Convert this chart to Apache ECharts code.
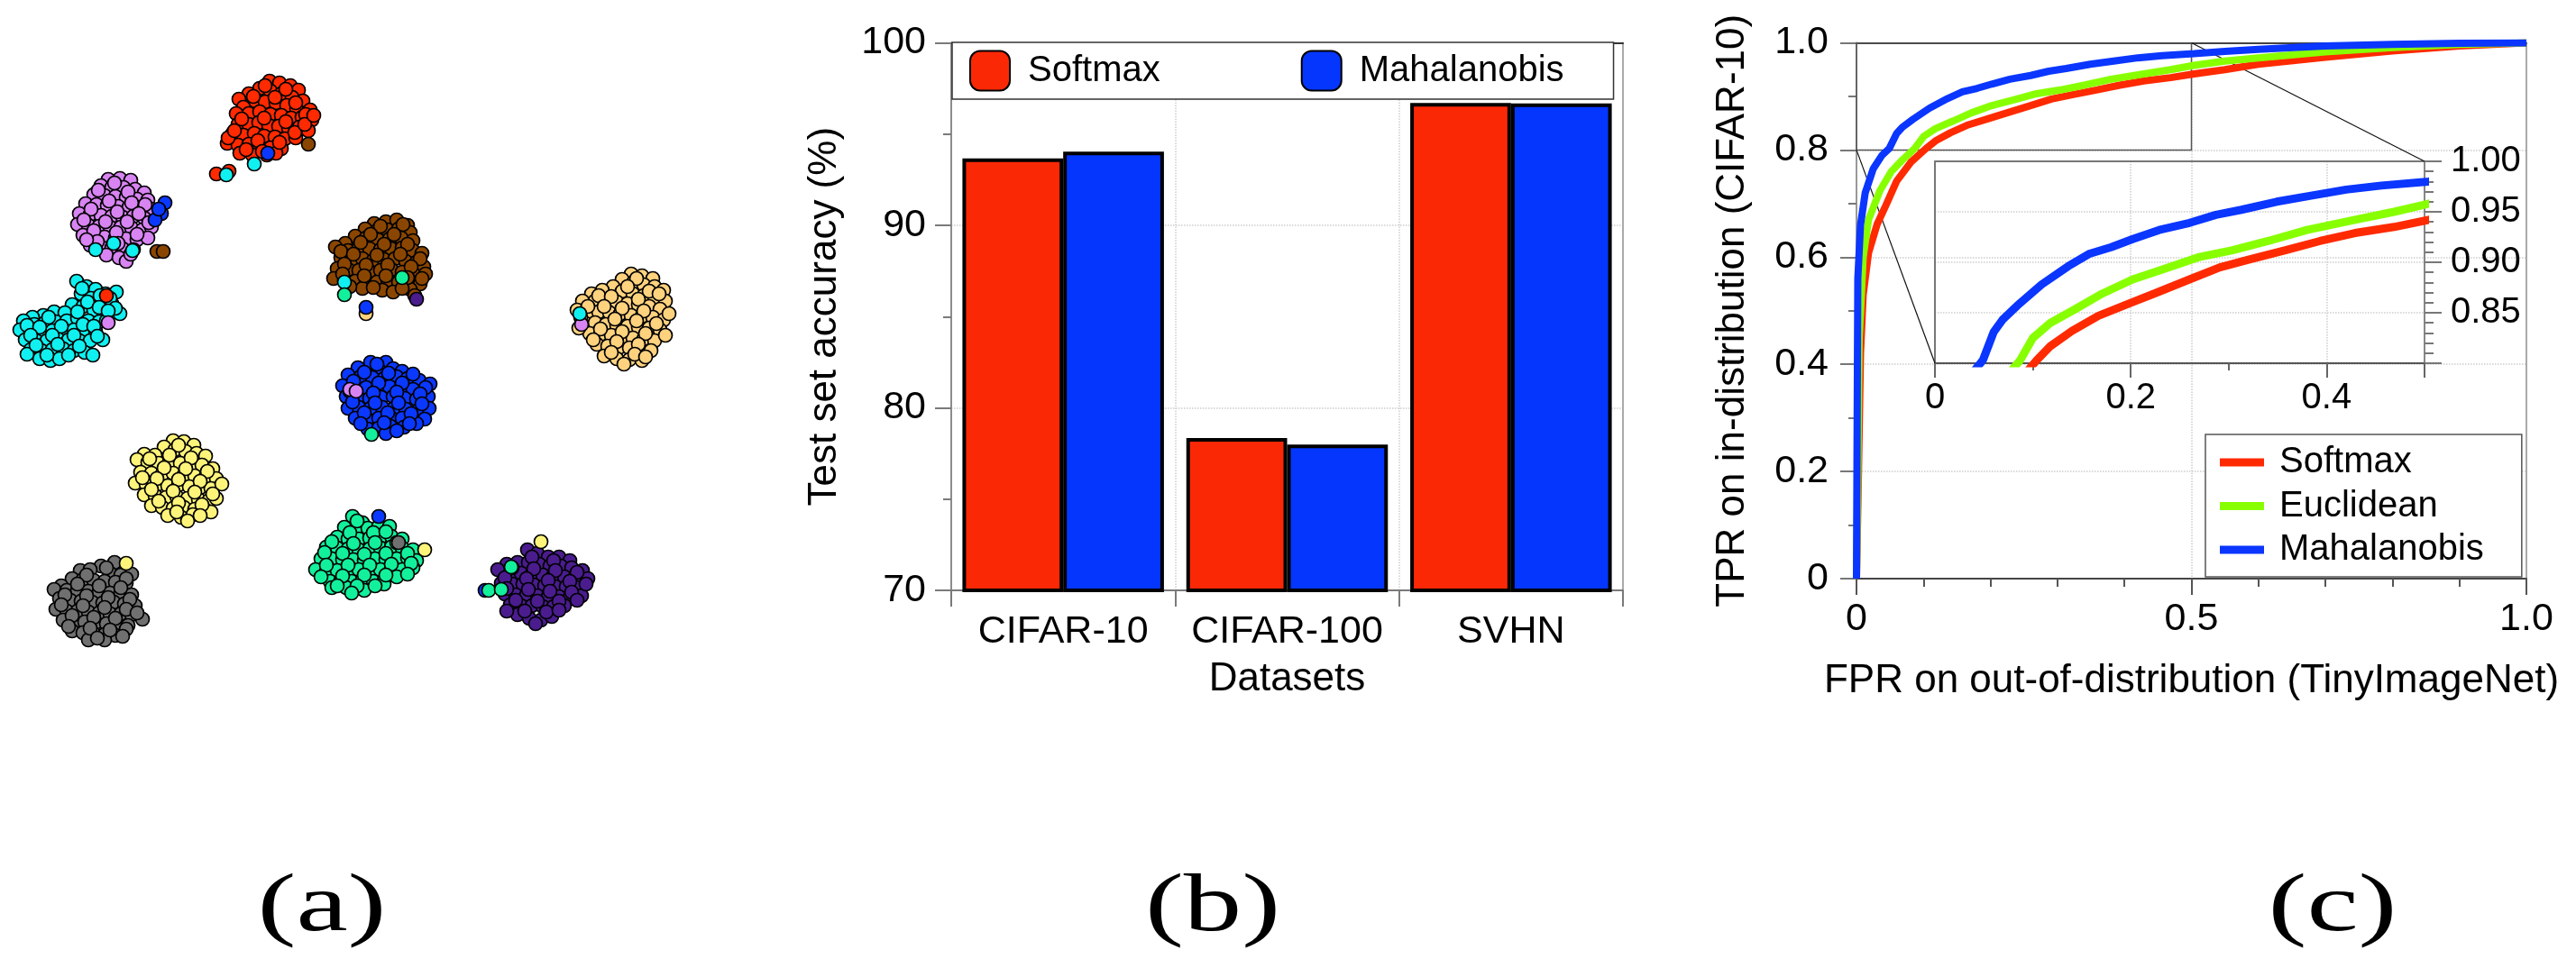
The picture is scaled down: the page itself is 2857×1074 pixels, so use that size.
<!DOCTYPE html>
<html><head><meta charset="utf-8">
<script src="https://cdn.jsdelivr.net/npm/echarts@6/dist/echarts.min.js"></script>
<style>html,body{margin:0;padding:0;background:#fff}#c{width:2857px;height:1074px}</style>
</head><body><div id="c"></div>
<script>
// ---------------- Panel (a): t-SNE embedding (units = picture units) ----------------
const PTS_RED = [[299,90],[310,92],[322,95],[331,100],[288,98],[276,104],[265,110],[300,101],[312,104],[324,108],[336,112],[344,122],[283,112],[294,113],[306,114],[318,117],[329,121],[270,119],[262,126],[276,126],[288,124],[300,127],[312,128],[323,131],[335,130],[346,133],[264,138],[276,138],[287,136],[298,139],[309,140],[320,142],[332,141],[342,145],[258,148],[270,150],[282,148],[293,151],[305,152],[316,154],[328,153],[252,159],[264,161],[276,160],[288,163],[300,164],[312,165],[266,170],[280,172],[296,172],[306,170],
  [294,95],[317,99],[281,107],[305,108],[328,114],[339,127],[268,132],[293,131],[317,135],[327,147],[253,153],[286,156],[310,158],[273,166],[291,168],[338,138],[348,128],[260,145]];
const PTS_LILAC = [[120,199],[133,198],[145,200],[112,206],[124,208],[137,208],[150,210],[160,214],[104,216],[116,217],[128,218],[140,219],[152,221],[164,222],[95,226],[107,227],[119,228],[131,229],[143,230],[155,231],[167,232],[88,237],[100,238],[112,239],[124,240],[136,241],[148,240],[160,242],[86,249],[98,250],[110,251],[122,252],[134,252],[146,253],[158,255],[168,252],[92,261],[104,262],[116,263],[128,264],[140,265],[152,266],[164,264],[100,272],[112,274],[124,275],[136,276],[148,277],[118,283],[132,286],[140,290],
  [127,203],[142,213],[109,211],[121,223],[146,225],[161,227],[101,232],[130,235],[154,237],[93,244],[117,246],[141,246],[165,247],[104,256],[129,258],[152,260],[108,268],[131,270],[145,282],[96,266]];
const PTS_CYAN = [[85,312],[96,318],[106,321],[117,326],[129,324],[90,326],[101,331],[112,335],[124,337],[133,348],[80,338],[92,340],[104,344],[116,347],[60,346],[72,347],[48,350],[36,352],[26,356],[38,360],[50,358],[62,357],[74,356],[86,353],[98,356],[110,357],[22,366],[34,368],[46,368],[58,367],[70,366],[82,366],[94,366],[106,368],[114,377],[28,377],[40,378],[52,378],[64,376],[76,377],[88,378],[100,378],[34,388],[46,389],[58,388],[70,387],[82,389],[94,391],[103,394],[44,398],[56,400],[66,398],[30,393],
  [91,320],[111,328],[122,331],[97,335],[110,341],[128,342],[86,346],[54,352],[30,361],[44,363],[68,362],[92,360],[104,362],[118,356],[34,372],[58,372],[82,372],[108,373],[40,383],[64,382],[88,384],[52,394],[76,394],[120,345]];
const PTS_BROWN = [[415,248],[428,246],[440,244],[452,250],[405,254],[418,256],[430,255],[442,254],[455,258],[394,262],[406,264],[419,266],[432,265],[445,264],[458,267],[383,270],[372,274],[386,278],[398,275],[410,276],[422,277],[434,276],[446,275],[458,278],[468,281],[378,286],[390,288],[402,287],[414,289],[426,288],[438,287],[450,290],[462,291],[470,296],[374,298],[386,299],[398,300],[410,301],[422,300],[434,299],[446,302],[458,303],[472,304],[370,309],[382,311],[394,312],[406,314],[418,313],[430,311],[442,313],[454,316],[466,315],[402,320],[424,322],[436,324],[455,321],[460,328],
  [422,251],[447,249],[411,260],[437,260],[400,269],[426,271],[452,271],[378,279],[392,282],[418,283],[444,282],[466,287],[382,293],[406,294],[430,294],[456,296],[380,304],[404,306],[428,306],[452,308],[388,318],[414,319],[446,320],[468,309]];
const PTS_TAN = [[700,304],[712,306],[724,309],[690,310],[702,314],[714,316],[726,318],[736,322],[680,318],[668,322],[656,326],[690,323],[702,326],[714,328],[726,330],[738,334],[646,334],[660,334],[672,334],[684,335],[696,337],[708,338],[720,340],[732,343],[640,344],[652,346],[664,346],[676,347],[688,348],[700,350],[712,351],[724,352],[736,355],[648,358],[660,358],[672,360],[684,361],[696,362],[708,363],[720,364],[732,366],[654,370],[666,371],[678,372],[690,374],[702,375],[714,376],[726,378],[662,382],[674,384],[686,386],[698,386],[710,388],[722,389],[670,395],[684,398],[698,399],[712,400],[692,404],
  [706,309],[696,318],[720,323],[731,326],[664,328],[678,329],[708,332],[652,340],[670,340],[690,342],[714,345],[742,348],[644,352],[682,354],[706,356],[728,359],[642,364],[666,365],[690,368],[716,370],[738,372],[658,377],[684,379],[708,382],[678,391],[704,393],[716,396]];
const PTS_BLUE = [[411,402],[428,402],[397,408],[420,410],[436,409],[446,412],[386,416],[400,418],[413,419],[426,420],[440,418],[452,420],[465,422],[477,426],[380,428],[393,429],[406,430],[419,431],[432,429],[445,430],[458,432],[470,435],[384,440],[397,441],[410,442],[423,441],[436,440],[449,442],[462,443],[475,440],[386,453],[398,452],[411,453],[424,452],[437,453],[450,454],[463,456],[476,453],[394,464],[407,465],[420,464],[433,463],[446,464],[459,466],[471,465],[408,476],[420,475],[433,473],[448,474],[462,470],[428,481],
  [418,404],[404,413],[431,414],[458,415],[392,423],[420,425],[446,425],[472,430],[388,434],[414,436],[440,435],[466,437],[391,446],[416,447],[442,447],[468,448],[404,458],[430,458],[456,459],[400,470],[426,469],[454,470],[440,478]];
const PTS_YELLOW = [[192,489],[204,490],[215,494],[182,496],[194,499],[206,501],[218,503],[228,506],[160,504],[172,505],[152,510],[164,513],[176,514],[188,512],[200,514],[212,515],[224,516],[236,520],[156,524],[168,525],[180,526],[192,525],[204,527],[216,528],[228,529],[240,531],[150,536],[162,537],[174,538],[186,539],[198,538],[210,540],[222,541],[234,542],[160,549],[172,550],[184,552],[196,551],[208,553],[220,554],[232,555],[240,553],[168,561],[180,563],[192,564],[204,563],[216,565],[228,566],[186,572],[201,574],[214,571],[234,568],
  [198,494],[188,505],[212,508],[166,509],[182,519],[206,520],[230,523],[158,530],[174,531],[198,532],[222,534],[246,537],[168,543],[192,545],[216,546],[236,548],[176,556],[198,558],[224,560],[196,568],[222,572],[208,578]];
const PTS_GRAY = [[127,624],[112,628],[89,633],[100,632],[122,636],[134,638],[146,637],[80,642],[92,643],[104,644],[116,645],[128,646],[140,647],[68,650],[60,654],[74,655],[86,655],[98,656],[110,657],[122,658],[134,658],[146,660],[66,664],[78,666],[90,667],[102,668],[114,669],[126,668],[138,670],[150,672],[62,676],[74,678],[86,678],[98,679],[110,680],[122,681],[134,681],[146,682],[158,687],[70,688],[82,690],[94,690],[106,691],[118,692],[130,693],[142,694],[80,700],[92,702],[104,703],[116,704],[128,705],[140,698],[98,710],[116,710],
  [118,630],[96,638],[140,642],[86,648],[110,650],[134,652],[72,660],[96,661],[120,663],[144,665],[68,671],[92,672],[116,674],[140,676],[80,683],[104,685],[128,686],[152,680],[76,695],[100,697],[122,699],[108,708],[136,706]];
const PTS_GREEN = [[391,573],[402,580],[382,585],[394,588],[408,586],[420,584],[432,584],[374,596],[386,598],[398,598],[410,597],[422,596],[434,595],[446,598],[362,607],[374,608],[386,609],[398,610],[410,609],[422,608],[434,607],[446,608],[458,610],[356,620],[368,620],[380,621],[392,621],[404,622],[416,620],[428,621],[440,620],[452,619],[462,622],[350,632],[362,634],[374,633],[386,633],[398,632],[410,633],[422,632],[434,631],[446,632],[458,630],[366,645],[378,644],[390,645],[402,643],[414,645],[426,644],[368,652],[384,652],[404,655],[426,648],[440,640],
  [396,578],[388,591],[414,591],[428,590],[368,601],[392,603],[416,602],[440,602],[360,613],[380,614],[404,615],[428,614],[452,614],[362,627],[386,627],[410,627],[434,626],[456,625],[356,640],[380,639],[404,638],[428,638],[452,637],[374,650],[396,650],[416,650],[390,658]];
const PTS_PURPLE = [[585,610],[596,614],[608,618],[620,618],[632,622],[562,626],[574,624],[586,624],[598,626],[610,628],[622,628],[634,630],[646,633],[552,632],[566,636],[578,636],[590,637],[602,638],[614,638],[626,640],[638,640],[652,642],[556,647],[568,648],[580,648],[592,649],[604,650],[616,651],[628,651],[640,652],[560,659],[572,660],[584,660],[596,661],[608,662],[620,662],[632,663],[645,661],[566,671],[578,672],[590,672],[602,673],[614,673],[626,672],[574,682],[587,686],[600,688],[612,684],[562,678],
  [590,618],[614,622],[568,630],[592,631],[616,633],[640,635],[560,641],[584,642],[608,644],[632,645],[650,648],[562,653],[586,654],[610,656],[634,657],[572,666],[596,667],[620,667],[640,666],[582,678],[606,679],[594,692],[620,677]];
// points of a class that landed inside another class's cluster
const STRAY_RED = [[240,193],[254,190],[118,328]];
const STRAY_LILAC = [[120,358],[388,432],[395,434],[645,360]];
const STRAY_CYAN = [[251,194],[282,182],[106,277],[126,270],[147,278],[382,313],[643,348]];
const STRAY_BROWN = [[342,160],[174,279],[181,279]];
const STRAY_TAN = [[406,348]];
const STRAY_BLUE = [[297,170],[183,225],[179,237],[172,244],[176,232],[406,341],[420,573],[538,655]];
const STRAY_YELLOW = [[600,601],[471,610],[140,625]];
const STRAY_GRAY = [[442,602]];
const STRAY_GREEN = [[382,327],[446,308],[412,482],[542,655],[556,654],[567,629]];
const STRAY_PURPLE = [[462,332]];

// ---------------- Panel (b): accuracy ----------------
const DATASETS = ['CIFAR-10', 'CIFAR-100', 'SVHN'];
const ACC_SOFTMAX = [93.67, 78.35, 96.70];
const ACC_MAHALANOBIS = [94.04, 77.99, 96.68];

// ---------------- Panel (c): ROC curves ----------------
const SOFTMAX_FPR = [0,0.003,0.006,0.01,0.018,0.031,0.044,0.06,0.081,0.104,0.118,0.140,0.167,0.198,0.224,0.26,0.291,0.322,0.358,0.393,0.429,0.469,0.504,0.55,0.6,0.7,0.8,0.9,1];
const SOFTMAX_TPR = [0,0.2,0.42,0.53,0.608,0.662,0.697,0.742,0.777,0.803,0.817,0.832,0.847,0.859,0.869,0.883,0.895,0.903,0.912,0.921,0.929,0.935,0.942,0.950,0.960,0.973,0.985,0.994,1];
const EUCLID_FPR = [0,0.002,0.004,0.01,0.018,0.035,0.052,0.069,0.087,0.1,0.118,0.144,0.171,0.202,0.233,0.269,0.304,0.34,0.38,0.429,0.469,0.504,0.55,0.6,0.7,0.8,0.9,1];
const EUCLID_TPR = [0,0.2,0.45,0.6,0.67,0.724,0.76,0.782,0.803,0.825,0.840,0.854,0.869,0.883,0.893,0.905,0.912,0.921,0.932,0.942,0.950,0.958,0.966,0.972,0.983,0.991,0.997,1];
const MAHAL_FPR = [0,0.001,0.002,0.006,0.013,0.025,0.038,0.049,0.060,0.069,0.084,0.109,0.136,0.158,0.18,0.202,0.229,0.26,0.287,0.313,0.349,0.384,0.42,0.456,0.504,0.55,0.6,0.7,0.8,0.9,1];
const MAHAL_TPR = [0,0.3,0.56,0.66,0.72,0.765,0.79,0.803,0.831,0.843,0.857,0.878,0.896,0.9085,0.915,0.923,0.932,0.939,0.947,0.952,0.960,0.966,0.972,0.976,0.980,0.984,0.988,0.994,0.997,0.999,1];
const INSET_X = [0, 0.5];
const INSET_Y = [0.8, 1.0];

// ---------------- styling ----------------
const FONT = '"Liberation Sans", Arial, Helvetica, sans-serif';
const C_RED = '#ff2a00', C_GREEN = '#88ff00', C_BLUE = '#0a36ff';
const BAR_RED = '#fb2806', BAR_BLUE = '#0436fd';
const TSNE = [
  [PTS_RED, STRAY_RED, '#ff2a00'],
  [PTS_LILAC, STRAY_LILAC, '#d884f2'],
  [PTS_CYAN, STRAY_CYAN, '#10f0f0'],
  [PTS_BROWN, STRAY_BROWN, '#8a4600'],
  [PTS_TAN, STRAY_TAN, '#ffd27e'],
  [PTS_BLUE, STRAY_BLUE, '#0a38ff'],
  [PTS_YELLOW, STRAY_YELLOW, '#fff47a'],
  [PTS_GRAY, STRAY_GRAY, '#707070'],
  [PTS_GREEN, STRAY_GREEN, '#12f09c'],
  [PTS_PURPLE, STRAY_PURPLE, '#4a1c8e']
];
const zip = (a, b) => a.map((v, i) => [v, b[i]]);

const chart = echarts.init(document.getElementById('c'), null, {renderer: 'canvas', width: 2857, height: 1074});

function frameAxis(grid, pos, color, w) {
  return {gridIndex: grid, type: 'value', position: pos, min: 0, max: 1,
    axisLine: {show: true, onZero: false, lineStyle: {color: color, width: w}},
    axisTick: {show: false}, axisLabel: {show: false}, splitLine: {show: false}};
}
const tickLbl = (size, margin) => ({color: '#000', fontFamily: FONT, fontSize: size, margin: margin});
const dotted = {show: true, lineStyle: {type: 'dotted', color: '#cdcdcd', width: 1.5}};
const near = (v, t) => Math.abs(v - t) < 1e-6;

const series = [];
TSNE.forEach(([pts, , col]) => series.push({type: 'scatter', xAxisIndex: 0, yAxisIndex: 0, data: pts,
  symbolSize: 15, silent: true, itemStyle: {color: col, borderColor: '#000', borderWidth: 1.7, opacity: 1}}));
TSNE.forEach(([, st, col]) => series.push({type: 'scatter', xAxisIndex: 0, yAxisIndex: 0, data: st,
  symbolSize: 15, silent: true, itemStyle: {color: col, borderColor: '#000', borderWidth: 1.7, opacity: 1}}));

series.push({name: 'Softmax', type: 'bar', xAxisIndex: 1, yAxisIndex: 1, data: ACC_SOFTMAX,
  barGap: '0%', barCategoryGap: '10%', itemStyle: {color: BAR_RED, borderColor: '#000', borderWidth: 4}});
series.push({name: 'Mahalanobis', type: 'bar', xAxisIndex: 1, yAxisIndex: 1, data: ACC_MAHALANOBIS,
  barGap: '0%', barCategoryGap: '10%', itemStyle: {color: BAR_BLUE, borderColor: '#000', borderWidth: 4}});

// zoom rectangle on the main ROC plot
series.push({type: 'line', xAxisIndex: 3, yAxisIndex: 3, silent: true, symbol: 'none', z: 1,
  data: [[INSET_X[0], INSET_Y[0]], [INSET_X[1], INSET_Y[0]], [INSET_X[1], INSET_Y[1]], [INSET_X[0], INSET_Y[1]], [INSET_X[0], INSET_Y[0]]],
  lineStyle: {color: '#555', width: 1.5}});
const ROC = [['Softmax ', SOFTMAX_FPR, SOFTMAX_TPR, C_RED], ['Euclidean', EUCLID_FPR, EUCLID_TPR, C_GREEN], ['Mahalanobis ', MAHAL_FPR, MAHAL_TPR, C_BLUE]];
ROC.forEach(([n, fx, fy, col]) => {
  series.push({name: n, type: 'line', xAxisIndex: 3, yAxisIndex: 3, data: zip(fx, fy), color: col,
    symbol: 'none', showSymbol: false, lineStyle: {color: col, width: 8}, itemStyle: {color: col, borderWidth: 0}, z: 3});
});
ROC.forEach(([n, fx, fy, col]) => {
  series.push({name: n, type: 'line', xAxisIndex: 5, yAxisIndex: 5, data: zip(fx, fy), color: col, clip: true,
    symbol: 'none', showSymbol: false, lineStyle: {color: col, width: 9}, itemStyle: {color: col, borderWidth: 0}, z: 3});
});

const option = {
  animation: false,
  backgroundColor: '#fff',
  grid: [
    {left: 0, top: 0, width: 760, height: 1074, outerBoundsMode: 'none'},
    {left: 1055, top: 47.5, width: 745, height: 607.5, outerBoundsMode: 'none'},
    {left: 2059, top: 47.5, width: 743, height: 594.5, outerBoundsMode: 'none'},
    {left: 2146, top: 179, width: 543, height: 224, outerBoundsMode: 'none'}
  ],
  xAxis: [
    {gridIndex: 0, type: 'value', min: 0, max: 760, show: false},
    {gridIndex: 1, type: 'category', data: DATASETS, position: 'bottom',
      axisLine: {show: true, lineStyle: {color: '#7a7a7a', width: 2}},
      axisTick: {show: true, interval: 0, length: 18, lineStyle: {color: '#7a7a7a', width: 2}},
      axisLabel: Object.assign(tickLbl(43, 25), {interval: 0}),
      splitLine: Object.assign({interval: 0}, dotted),
      name: 'Datasets', nameLocation: 'middle', nameGap: 77,
      nameTextStyle: {color: '#000', fontFamily: FONT, fontSize: 44}},
    frameAxis(1, 'top', '#333', 2),
    {gridIndex: 2, type: 'value', min: 0, max: 1, interval: 0.5, position: 'bottom',
      axisLine: {show: true, onZero: false, lineStyle: {color: '#444', width: 2}},
      axisTick: {show: true, length: 18, lineStyle: {color: '#555', width: 2}},
      minorTick: {show: true, splitNumber: 5, length: 9, lineStyle: {color: '#555', width: 2}},
      axisLabel: Object.assign(tickLbl(43, 24), {formatter: v => v === 0 ? '0' : v.toFixed(1)}),
      splitLine: dotted,
      name: 'FPR on out-of-distribution (TinyImageNet)', nameLocation: 'middle', nameGap: 92,
      nameTextStyle: {color: '#000', fontFamily: FONT, fontSize: 44}},
    frameAxis(2, 'top', '#444', 2),
    {gridIndex: 3, type: 'value', min: INSET_X[0], max: INSET_X[1], interval: 0.2, position: 'bottom',
      axisLine: {show: true, onZero: false, lineStyle: {color: '#555', width: 2}},
      axisTick: {show: true, length: 16, lineStyle: {color: '#666', width: 2}},
      minorTick: {show: true, splitNumber: 2, length: 8, lineStyle: {color: '#666', width: 2}},
      axisLabel: Object.assign(tickLbl(40, 19), {formatter: v => near(v, 0) ? '0' : (near(v, 0.2) || near(v, 0.4)) ? v.toFixed(1) : ''}),
      splitLine: dotted},
    frameAxis(3, 'top', '#777', 2)
  ],
  yAxis: [
    {gridIndex: 0, type: 'value', min: 0, max: 1074, inverse: true, show: false},
    {gridIndex: 1, type: 'value', min: 70, max: 100, interval: 10, position: 'left',
      axisLine: {show: true, onZero: false, lineStyle: {color: '#8c8c8c', width: 2}},
      axisTick: {show: true, length: 18, lineStyle: {color: '#7a7a7a', width: 2}},
      minorTick: {show: true, splitNumber: 2, length: 9, lineStyle: {color: '#7a7a7a', width: 2}},
      axisLabel: tickLbl(43, 28),
      splitLine: dotted,
      name: 'Test set accuracy (%)', nameLocation: 'middle', nameGap: 118, nameRotate: 90,
      nameTextStyle: {color: '#000', fontFamily: FONT, fontSize: 44}},
    frameAxis(1, 'right', '#aaa', 2),
    {gridIndex: 2, type: 'value', min: 0, max: 1, interval: 0.2, position: 'left',
      axisLine: {show: true, onZero: false, lineStyle: {color: '#999', width: 2}},
      axisTick: {show: true, length: 18, lineStyle: {color: '#777', width: 2}},
      minorTick: {show: true, splitNumber: 2, length: 9, lineStyle: {color: '#777', width: 2}},
      axisLabel: Object.assign(tickLbl(43, 31), {formatter: v => v === 0 ? '0' : v.toFixed(1)}),
      splitLine: dotted,
      name: 'TPR on in-distribution (CIFAR-10)', nameLocation: 'middle', nameGap: 115, nameRotate: 90,
      nameTextStyle: {color: '#000', fontFamily: FONT, fontSize: 44}},
    frameAxis(2, 'right', '#aaa', 2),
    {gridIndex: 3, type: 'value', min: INSET_Y[0], max: INSET_Y[1], interval: 0.05, position: 'right',
      axisLine: {show: true, onZero: false, lineStyle: {color: '#888', width: 2}},
      axisTick: {show: true, length: 19, lineStyle: {color: '#777', width: 2}},
      minorTick: {show: true, splitNumber: 5, length: 10, lineStyle: {color: '#777', width: 2}},
      axisLabel: Object.assign(tickLbl(40, 29), {formatter: v => near(v, 0.8) ? '' : v.toFixed(2)}),
      splitLine: dotted},
    frameAxis(3, 'left', '#777', 2)
  ],
  legend: [
    {data: [{name: 'Softmax', icon: 'roundRect'}, {name: 'Mahalanobis', icon: 'roundRect'}],
      orient: 'horizontal', left: 1056, top: 47, itemWidth: 44, itemHeight: 44, itemGap: 156,
      padding: [8.5, 55, 8.5, 19], backgroundColor: '#fff', borderColor: '#333', borderWidth: 1.5,
      selectedMode: false, textStyle: {color: '#000', fontFamily: FONT, fontSize: 40, padding: [0, 0, 0, 15]}},
    {data: ['Softmax ', 'Euclidean', 'Mahalanobis '], icon: 'rect',
      orient: 'vertical', left: 2446, top: 482, itemWidth: 49, itemHeight: 9, itemGap: 8.5,
      padding: [11, 42, 10, 16], backgroundColor: '#fff', borderColor: '#555', borderWidth: 1.5,
      selectedMode: false, formatter: n => n.trim(),
      textStyle: {color: '#000', fontFamily: FONT, fontSize: 40, lineHeight: 40, padding: [0, 0, 0, 12]}}
  ],
  series: series
};
chart.setOption(option);

// connector lines between zoom rectangle and inset, and panel captions
const mainTR = chart.convertToPixel({xAxisIndex: 3, yAxisIndex: 3}, [INSET_X[1], INSET_Y[1]]);
const insetTR = chart.convertToPixel({xAxisIndex: 5, yAxisIndex: 5}, [INSET_X[1], INSET_Y[1]]);
const mainBL = chart.convertToPixel({xAxisIndex: 3, yAxisIndex: 3}, [INSET_X[0], INSET_Y[0]]);
const insetBL = chart.convertToPixel({xAxisIndex: 5, yAxisIndex: 5}, [INSET_X[0], INSET_Y[0]]);
const capFont = '92px "Liberation Serif", "DejaVu Serif", serif';
const cap = (t, x) => ({type: 'text', x: x, y: 1008, scaleX: 1.4, style: {text: t, font: capFont, fill: '#000', align: 'center', verticalAlign: 'middle'}});
chart.setOption({graphic: [
  {type: 'line', z: 2, shape: {x1: mainTR[0], y1: mainTR[1], x2: insetTR[0], y2: insetTR[1]}, style: {stroke: '#111', lineWidth: 1.2}},
  {type: 'line', z: 2, shape: {x1: mainBL[0], y1: mainBL[1], x2: insetBL[0], y2: insetBL[1]}, style: {stroke: '#111', lineWidth: 1.2}},
  cap('(a)', 357), cap('(b)', 1345), cap('(c)', 2587)
]});
</script></body></html>
